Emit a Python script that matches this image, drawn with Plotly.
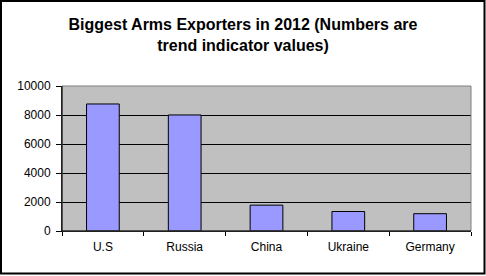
import plotly.graph_objects as go

categories = ["U.S", "Russia", "China", "Ukraine", "Germany"]
values = [8760, 8003, 1783, 1344, 1193]
y_ticks = [0, 2000, 4000, 6000, 8000, 10000]
y_tick_labels = ["0", "2000", "4000", "6000", "8000", "10000"]
title_lines = ["Biggest Arms Exporters in 2012 (Numbers are", "trend indicator values)"]

W, H = 486, 276
L, R, T, B = 62, 15, 86, 45
pw, ph = W - L - R, H - T - B

fig = go.Figure(go.Bar(
    x=categories, y=values,
    marker=dict(color="#9999FF", line=dict(color="black", width=1)),
))

fig.update_layout(
    width=W, height=H,
    margin=dict(l=L, r=R, t=T, b=B),
    paper_bgcolor="white",
    plot_bgcolor="#C0C0C0",
    bargap=0.6,
    showlegend=False,
    font=dict(family="Liberation Sans, Arial, sans-serif", size=12, color="black"),
    title=dict(text="<br>".join("<b>" + s + "</b>" for s in title_lines),
               x=0.5, xanchor="center", xref="container",
               y=1 - 30 / H, yanchor="middle", yref="container",
               font=dict(size=16, color="black")),
    xaxis=dict(showline=True, linecolor="black", linewidth=1,
               ticks="outside", tickson="boundaries", ticklen=4, tickcolor="black",
               ticklabelstandoff=5,
               showgrid=False, fixedrange=True),
    yaxis=dict(range=[0, 10000], tickvals=y_ticks, ticktext=y_tick_labels,
               showline=True, linecolor="black",
               linewidth=1, ticks="outside", ticklen=5, tickcolor="black",
               ticklabelstandoff=3,
               showgrid=True, gridcolor="black", gridwidth=1, zeroline=False,
               fixedrange=True),
    shapes=[
        dict(type="rect", xref="paper", yref="paper", x0=0, x1=1, y0=0, y1=1,
             line=dict(color="#808080", width=1), layer="above"),
        dict(type="line", xref="paper", yref="paper", x0=0, x1=0, y0=0, y1=1,
             line=dict(color="black", width=1), layer="above"),
        dict(type="line", xref="paper", yref="paper", x0=0, x1=1, y0=0, y1=0,
             line=dict(color="black", width=1), layer="above"),
        dict(type="rect", xref="paper", yref="paper",
             x0=(1 - L) / pw, x1=(484.5 - L) / pw,
             y0=(H - B - 273.5) / ph, y1=(H - B - 1) / ph,
             line=dict(color="black", width=2), layer="above"),
    ],
)

fig.write_html("out.html")
